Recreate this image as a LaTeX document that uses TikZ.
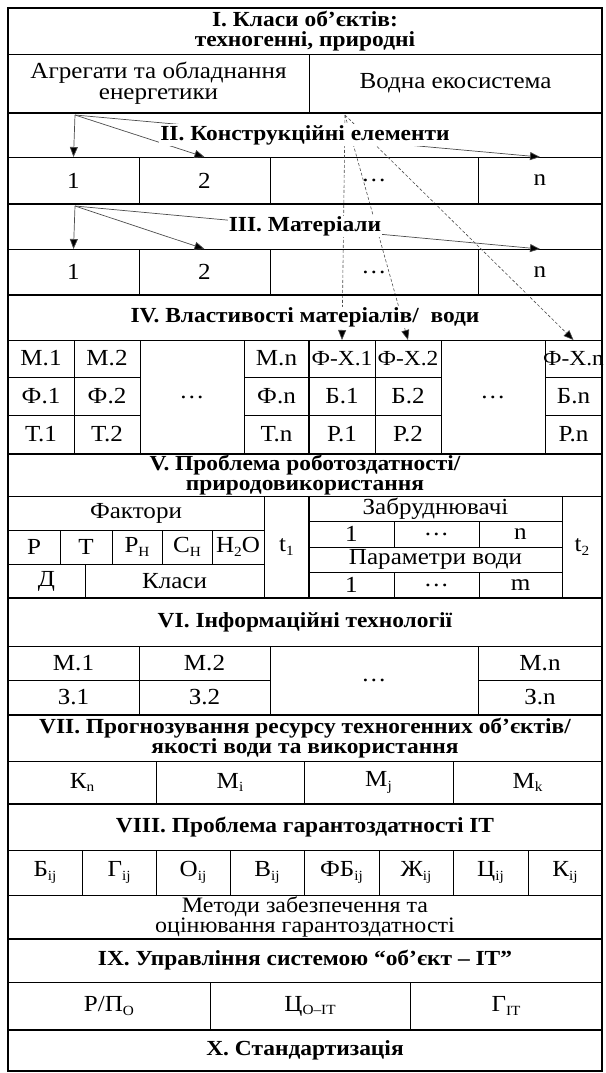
\documentclass[tikz,border=0pt]{standalone}
\usepackage{fontspec}
\setmainfont{Liberation Serif}[FakeStretch=1.09]
\usetikzlibrary{arrows.meta}
\newcommand\sbs[1]{\raisebox{-0.35ex}{\fontsize{14}{14}\selectfont #1}}
\newcommand\fxt[1]{\makebox[40pt]{#1}}
\newcommand\tcell[7][]{\node[cellbox,minimum width={(#5-#3)*1pt},minimum height={(#6-#4)*1pt},#1] (#2) at ({(#3+#5)/2},{(#4+#6)/2}) {#7};}
\tikzset{
  cellbox/.style={draw=black, line width=0.7pt, inner sep=0pt, outer sep=0pt, align=center, font=\fontsize{23}{21}\selectfont},
  fxfont/.style={font=\fontsize{21.5}{21}\selectfont},
  titletext/.style={fill=white, inner sep=1pt, align=center, font=\fontsize{21.5}{19.5}\selectfont\bfseries},
  thickline/.style={line width=2pt},
  arr/.style={draw=black!70, line width=0.7pt, -{Triangle[length=10pt,width=8pt,fill=black]}},
  darr/.style={draw=black!70, line width=0.6pt, dash pattern=on 3pt off 2pt, -{Triangle[length=10pt,width=8pt,fill=black]}},
}
\begin{document}
\begin{tikzpicture}[x=1pt,y=-1pt]
\useasboundingbox (0,0) rectangle (605,1073);
% I
\tcell{h1}{8}{8}{602}{54}{}
\node[titletext] (t1) at (h1) {I. Класи об’єктів:\\техногенні, природні};
\tcell{agr}{8}{54}{309}{113}{Агрегати та обладнання\\енергетики}
\tcell{vod}{309}{54}{602}{113}{Водна екосистема}
% II
\tcell{h2}{8}{113}{602}{157}{}
\tcell{ra1}{8}{157}{139}{204}{1}
\tcell{ra2}{139}{157}{270}{204}{2}
\tcell{ra3}{270}{157}{478}{204}{…}
\tcell{ran}{478}{157}{602}{204}{n}
% III
\tcell{h3}{8}{204}{602}{249}{}
\tcell{rb1}{8}{249}{139}{295}{1}
\tcell{rb2}{139}{249}{270}{295}{2}
\tcell{rb3}{270}{249}{478}{295}{…}
\tcell{rbn}{478}{249}{602}{295}{n}
% IV
\tcell{h4}{8}{295}{602}{340}{}
\tcell{m1}{8}{340}{74}{377}{М.1}
\tcell{f1}{8}{377}{74}{415}{Ф.1}
\tcell{tt1}{8}{415}{74}{454}{Т.1}
\tcell{m2}{74}{340}{140}{377}{М.2}
\tcell{f2}{74}{377}{140}{415}{Ф.2}
\tcell{tt2}{74}{415}{140}{454}{Т.2}
\tcell{md}{140}{340}{244}{454}{…}
\tcell{mn}{244}{340}{309}{377}{М.n}
\tcell{fn}{244}{377}{309}{415}{Ф.n}
\tcell{ttn}{244}{415}{309}{454}{Т.n}
\tcell[fxfont]{fx1}{309}{340}{375}{377}{\fxt{Ф-Х.1}}
\tcell{b1}{309}{377}{375}{415}{Б.1}
\tcell{p1}{309}{415}{375}{454}{Р.1}
\tcell[fxfont]{fx2}{375}{340}{441}{377}{\fxt{Ф-Х.2}}
\tcell{b2}{375}{377}{441}{415}{Б.2}
\tcell{p2}{375}{415}{441}{454}{Р.2}
\tcell{fxd}{441}{340}{545}{454}{…}
\tcell[fxfont]{fxn}{545}{340}{602}{377}{\fxt{Ф-Х.n}}
\tcell{bn}{545}{377}{602}{415}{Б.n}
\tcell{pn}{545}{415}{602}{454}{Р.n}
% V
\tcell{h5}{8}{454}{602}{496}{}
\node[titletext] (t5) at (h5) {V. Проблема роботоздатності/\\природовикористання};
\tcell{fak}{8}{496}{264}{530}{Фактори}
\tcell{vp}{8}{530}{60}{564}{Р}
\tcell{vt}{60}{530}{112}{564}{Т}
\tcell{vph}{112}{530}{162}{564}{Р\sbs{Н}}
\tcell{vch}{162}{530}{212}{564}{С\sbs{Н}}
\tcell{vh2o}{212}{530}{264}{564}{Н\sbs{2}О}
\tcell{vd}{8}{564}{85}{598}{Д}
\tcell{vkl}{85}{564}{264}{598}{Класи}
\tcell{vt1}{264}{496}{309}{598}{t\sbs{1}}
\tcell{zab}{309}{496}{562}{521}{Забруднювачі}
\tcell{z1}{309}{521}{394}{547}{1}
\tcell{zd}{394}{521}{479}{547}{…}
\tcell{zn}{479}{521}{562}{547}{n}
\tcell{par}{309}{547}{562}{572}{Параметри води}
\tcell{q1}{309}{572}{394}{598}{1}
\tcell{qd}{394}{572}{479}{598}{…}
\tcell{qm}{479}{572}{562}{598}{m}
\tcell{vt2}{562}{496}{602}{598}{t\sbs{2}}
% VI
\tcell{h6}{8}{598}{602}{646}{}
\node[titletext] (t6) at (h6) {VI. Інформаційні технології};
\tcell{s1}{8}{646}{139}{680}{М.1}
\tcell{s2}{139}{646}{270}{680}{М.2}
\tcell{sd}{270}{646}{478}{715}{…}
\tcell{sn}{478}{646}{602}{680}{М.n}
\tcell{w1}{8}{680}{139}{715}{З.1}
\tcell{w2}{139}{680}{270}{715}{З.2}
\tcell{wn}{478}{680}{602}{715}{З.n}
% VII
\tcell{h7}{8}{715}{602}{761}{}
\node[titletext] (t7) at (h7) {VII. Прогнозування ресурсу техногенних об’єктів/\\якості води та використання};
\tcell{kn}{8}{761}{156}{804}{К\sbs{n}}
\tcell{mi}{156}{761}{304}{804}{М\sbs{i}}
\tcell{mj}{304}{761}{453}{804}{М\sbs{j}}
\tcell{mk}{453}{761}{602}{804}{М\sbs{k}}
% VIII
\tcell{h8}{8}{804}{602}{850}{}
\node[titletext] (t8) at (h8) {VIII. Проблема гарантоздатності IT};
\tcell{g1}{8}{850}{82}{895}{Б\sbs{ij}}
\tcell{g2}{82}{850}{156}{895}{Г\sbs{ij}}
\tcell{g3}{156}{850}{230}{895}{О\sbs{ij}}
\tcell{g4}{230}{850}{304}{895}{В\sbs{ij}}
\tcell{g5}{304}{850}{379}{895}{ФБ\sbs{ij}}
\tcell{g6}{379}{850}{453}{895}{Ж\sbs{ij}}
\tcell{g7}{453}{850}{528}{895}{Ц\sbs{ij}}
\tcell{g8}{528}{850}{602}{895}{К\sbs{ij}}
\tcell[font=\fontsize{22}{20.5}\selectfont]{met}{8}{895}{602}{939}{Методи забезпечення та\\оцінювання гарантоздатності}
% IX
\tcell{h9}{8}{939}{602}{982}{}
\node[titletext] (t9) at (h9) {IX. Управління системою “об’єкт – IT”};
\tcell{u1}{8}{982}{210}{1030}{Р/П\sbs{О}}
\tcell{u2}{210}{982}{410}{1030}{Ц\sbs{О–IT}}
\tcell{u3}{410}{982}{602}{1030}{Г\sbs{IT}}
% X
\tcell{h10}{8}{1030}{602}{1071}{}
\node[titletext] (t10) at (h10) {X. Стандартизація};
% arrows
\coordinate (sa) at (75,115);
\coordinate (sb) at (75,206);
\coordinate (sd) at (345,115);
\draw[arr] (sa) -- (ra1.north);
\draw[arr] (sa) -- (ra2.north);
\draw[arr] (sa) -- (ran.north);
\draw[arr] (sb) -- (rb1.north);
\draw[arr] (sb) -- (rb2.north);
\draw[arr] (sb) -- (rbn.north);
\draw[darr] (sd) -- (fx1.north);
\draw[darr] (sd) -- (fx2.north);
\draw[darr] (sd) -- (fxn.north);
\node[titletext] (t2) at (h2) {II. Конструкційні елементи};
\node[titletext] (t3) at (h3) {III. Матеріали};
\node[titletext] (t4) at (h4) {IV. Властивості матеріалів/\ \ води};
% thick lines
\draw[thickline] (h1.south west |- agr.south) -- (vod.south east);
\draw[thickline] (ra1.south west) -- (ran.south east);
\draw[thickline] (rb1.south west) -- (rbn.south east);
\draw[thickline] (tt1.south west) -- (pn.south east);
\draw[thickline] (vd.south west) -- (vt2.south east);
\draw[thickline] (w1.south west) -- (wn.south east);
\draw[thickline] (kn.south west) -- (mk.south east);
\draw[thickline] (met.south west) -- (met.south east);
\draw[thickline] (u1.south west) -- (u3.south east);
\draw[thickline] (fx1.north west) -- (p1.south west);
\draw[thickline] (zab.north west) -- (q1.south west);
\draw[line width=2.5pt] (h1.north west) rectangle (h10.south east);
\end{tikzpicture}
\end{document}
